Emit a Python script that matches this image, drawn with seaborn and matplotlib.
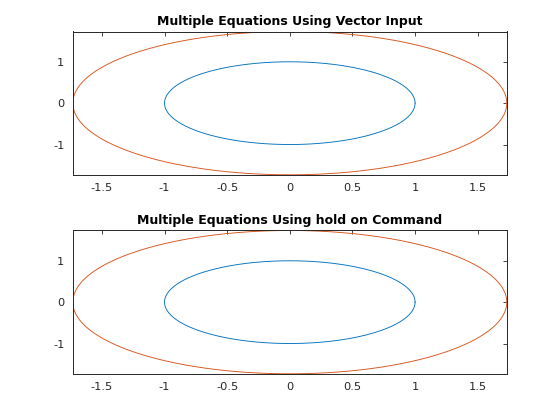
import numpy as np
import pandas as pd
import matplotlib
matplotlib.use("Agg")
import matplotlib.pyplot as plt
import seaborn as sns

# Data: implicit equations x^2 + y^2 = c
eq_constants = [1, 3]
eq_names = ["x^2+y^2=1", "x^2+y^2=3"]
colors = ["#0072BD", "#D95319"]
titles = ["Multiple Equations Using Vector Input",
          "Multiple Equations Using hold on Command"]
xticks = [-1.5, -1, -0.5, 0, 0.5, 1, 1.5]
xticklabels = ["-1.5", "-1", "-0.5", "0", "0.5", "1", "1.5"]
yticks = [-1, 0, 1]
yticklabels = ["-1", "0", "1"]
lim = np.sqrt(3)

t = np.linspace(0, 2 * np.pi, 721)
frames = []
for c, name in zip(eq_constants, eq_names):
    r = np.sqrt(c)
    frames.append(pd.DataFrame({"x": r * np.cos(t), "y": r * np.sin(t),
                                "eq": name, "order": np.arange(len(t))}))
df = pd.concat(frames, ignore_index=True)

sns.set_theme(style="white")
plt.rcParams["font.family"] = ["DejaVu Sans"]

fig = plt.figure(figsize=(5.6, 4.2), dpi=100)
positions = [[0.13, 0.5838, 0.775, 0.3412], [0.13, 0.11, 0.775, 0.3412]]
for pos, title in zip(positions, titles):
    ax = fig.add_axes(pos)
    sns.lineplot(data=df, x="x", y="y", hue="eq", palette=colors,
                 sort=False, estimator=None, units="eq", linewidth=0.65,
                 legend=False, ax=ax)
    ax.set_xlim(-lim, lim)
    ax.set_ylim(-lim, lim)
    ax.set_xticks(xticks)
    ax.set_xticklabels(xticklabels)
    ax.set_yticks(yticks)
    ax.set_yticklabels(yticklabels)
    ax.set_xlabel("")
    ax.set_ylabel("")
    ax.tick_params(direction="in", length=3, width=0.6, colors="#262626",
                   labelsize=8.2, top=True, right=True, pad=6)
    for s in ax.spines.values():
        s.set_color("#262626")
        s.set_linewidth(0.7)
        s.set_visible(True)
    ax.set_title(title, fontsize=9, fontweight="bold", color="black", pad=5)

fig.savefig("out.png", dpi=100)
